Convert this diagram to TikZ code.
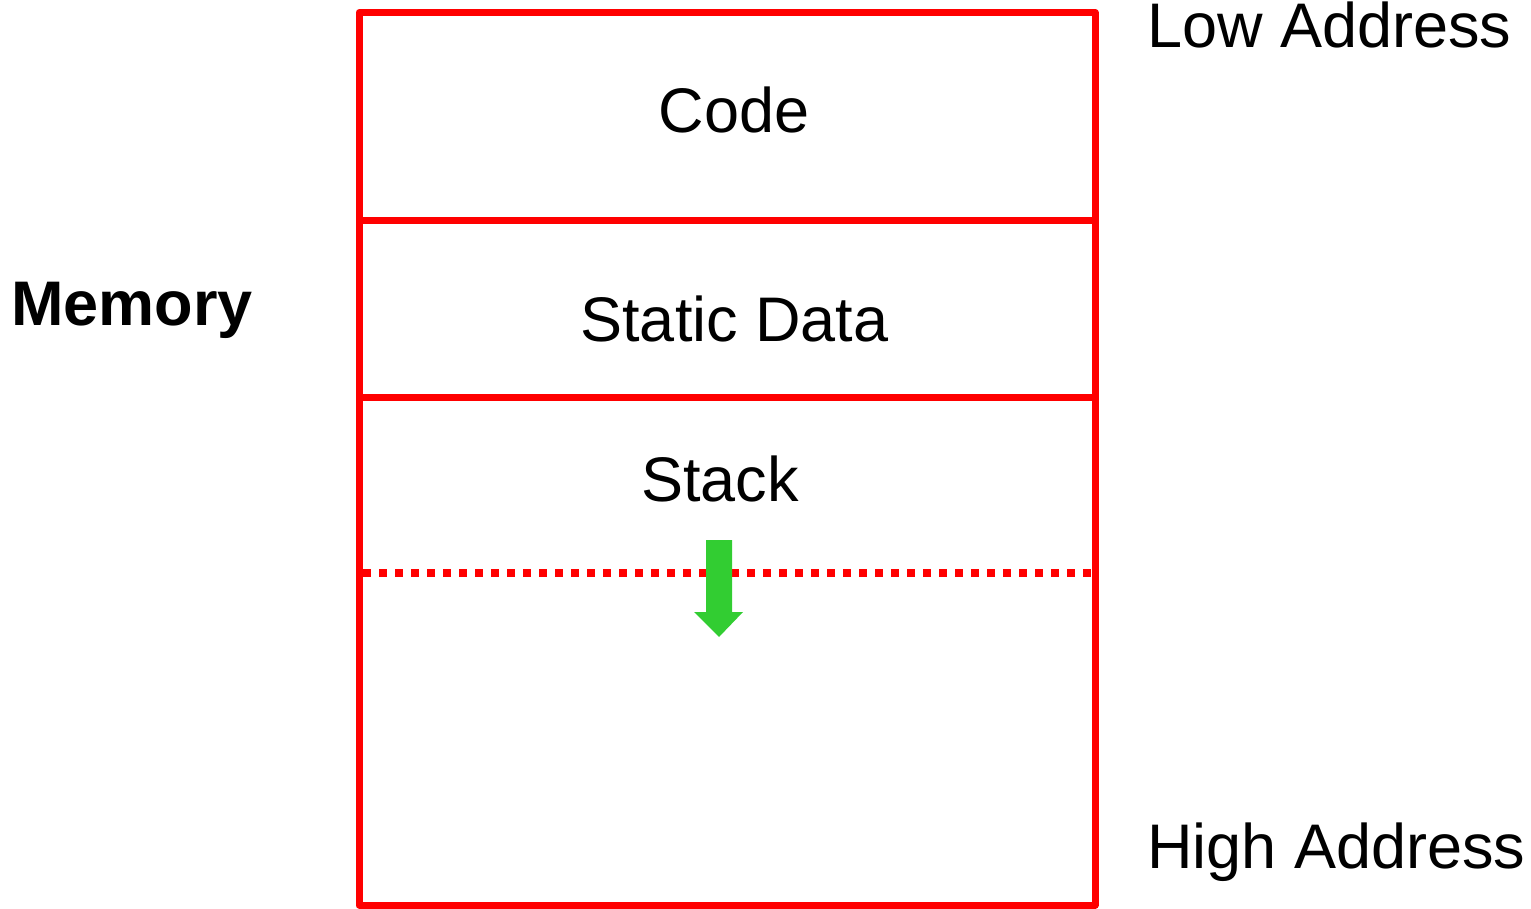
\documentclass[tikz,border=0pt]{standalone}
\usepackage{fontspec}
\setmainfont{Liberation Sans}
\definecolor{memred}{RGB}{255,0,0}
\definecolor{arrowgreen}{RGB}{50,205,50}
\begin{document}
\begin{tikzpicture}[x=1pt,y=-1pt,
  wall/.style={draw=memred,line width=7pt,line join=round},
  label/.style={inner sep=0pt,anchor=base,font=\fontsize{63}{75}\selectfont},
  sidelabel/.style={label,anchor=base west},
  frontier/.style={draw=memred,line width=8pt,dash pattern=on 8pt off 8pt},
  growarrow/.style={fill=arrowgreen,draw=none}]
\useasboundingbox (0,0) rectangle (1531,909);
% memory block
\draw[wall] (359,12.5) rectangle (1095,905);
\draw[wall] (359,220.5) -- (1095,220.5);
\draw[wall] (359,397) -- (1095,397);
% stack frontier
\coordinate (fl) at (363,573);
\coordinate (fr) at (1091,573);
\draw[frontier] (fl) -- (fr);
% growth arrow
\path[growarrow] (706,540) -- (732,540) -- (732,612) -- (743,612) -- (719,637) -- (694,612) -- (706,612) -- cycle;
% labels
\node[label] (code) at (734,133) {Code};
\node[label] (static) at (734.5,341) {Static Data};
\node[label] (stack) at (720,501) {Stack};
\node[sidelabel] (low) at (1147,48) {Low Address};
\node[sidelabel] (high) at (1147,868) {High Address};
\node[sidelabel,font=\fontsize{63}{75}\selectfont\bfseries] (mem) at (11,325) {Memory};
\end{tikzpicture}
\end{document}
